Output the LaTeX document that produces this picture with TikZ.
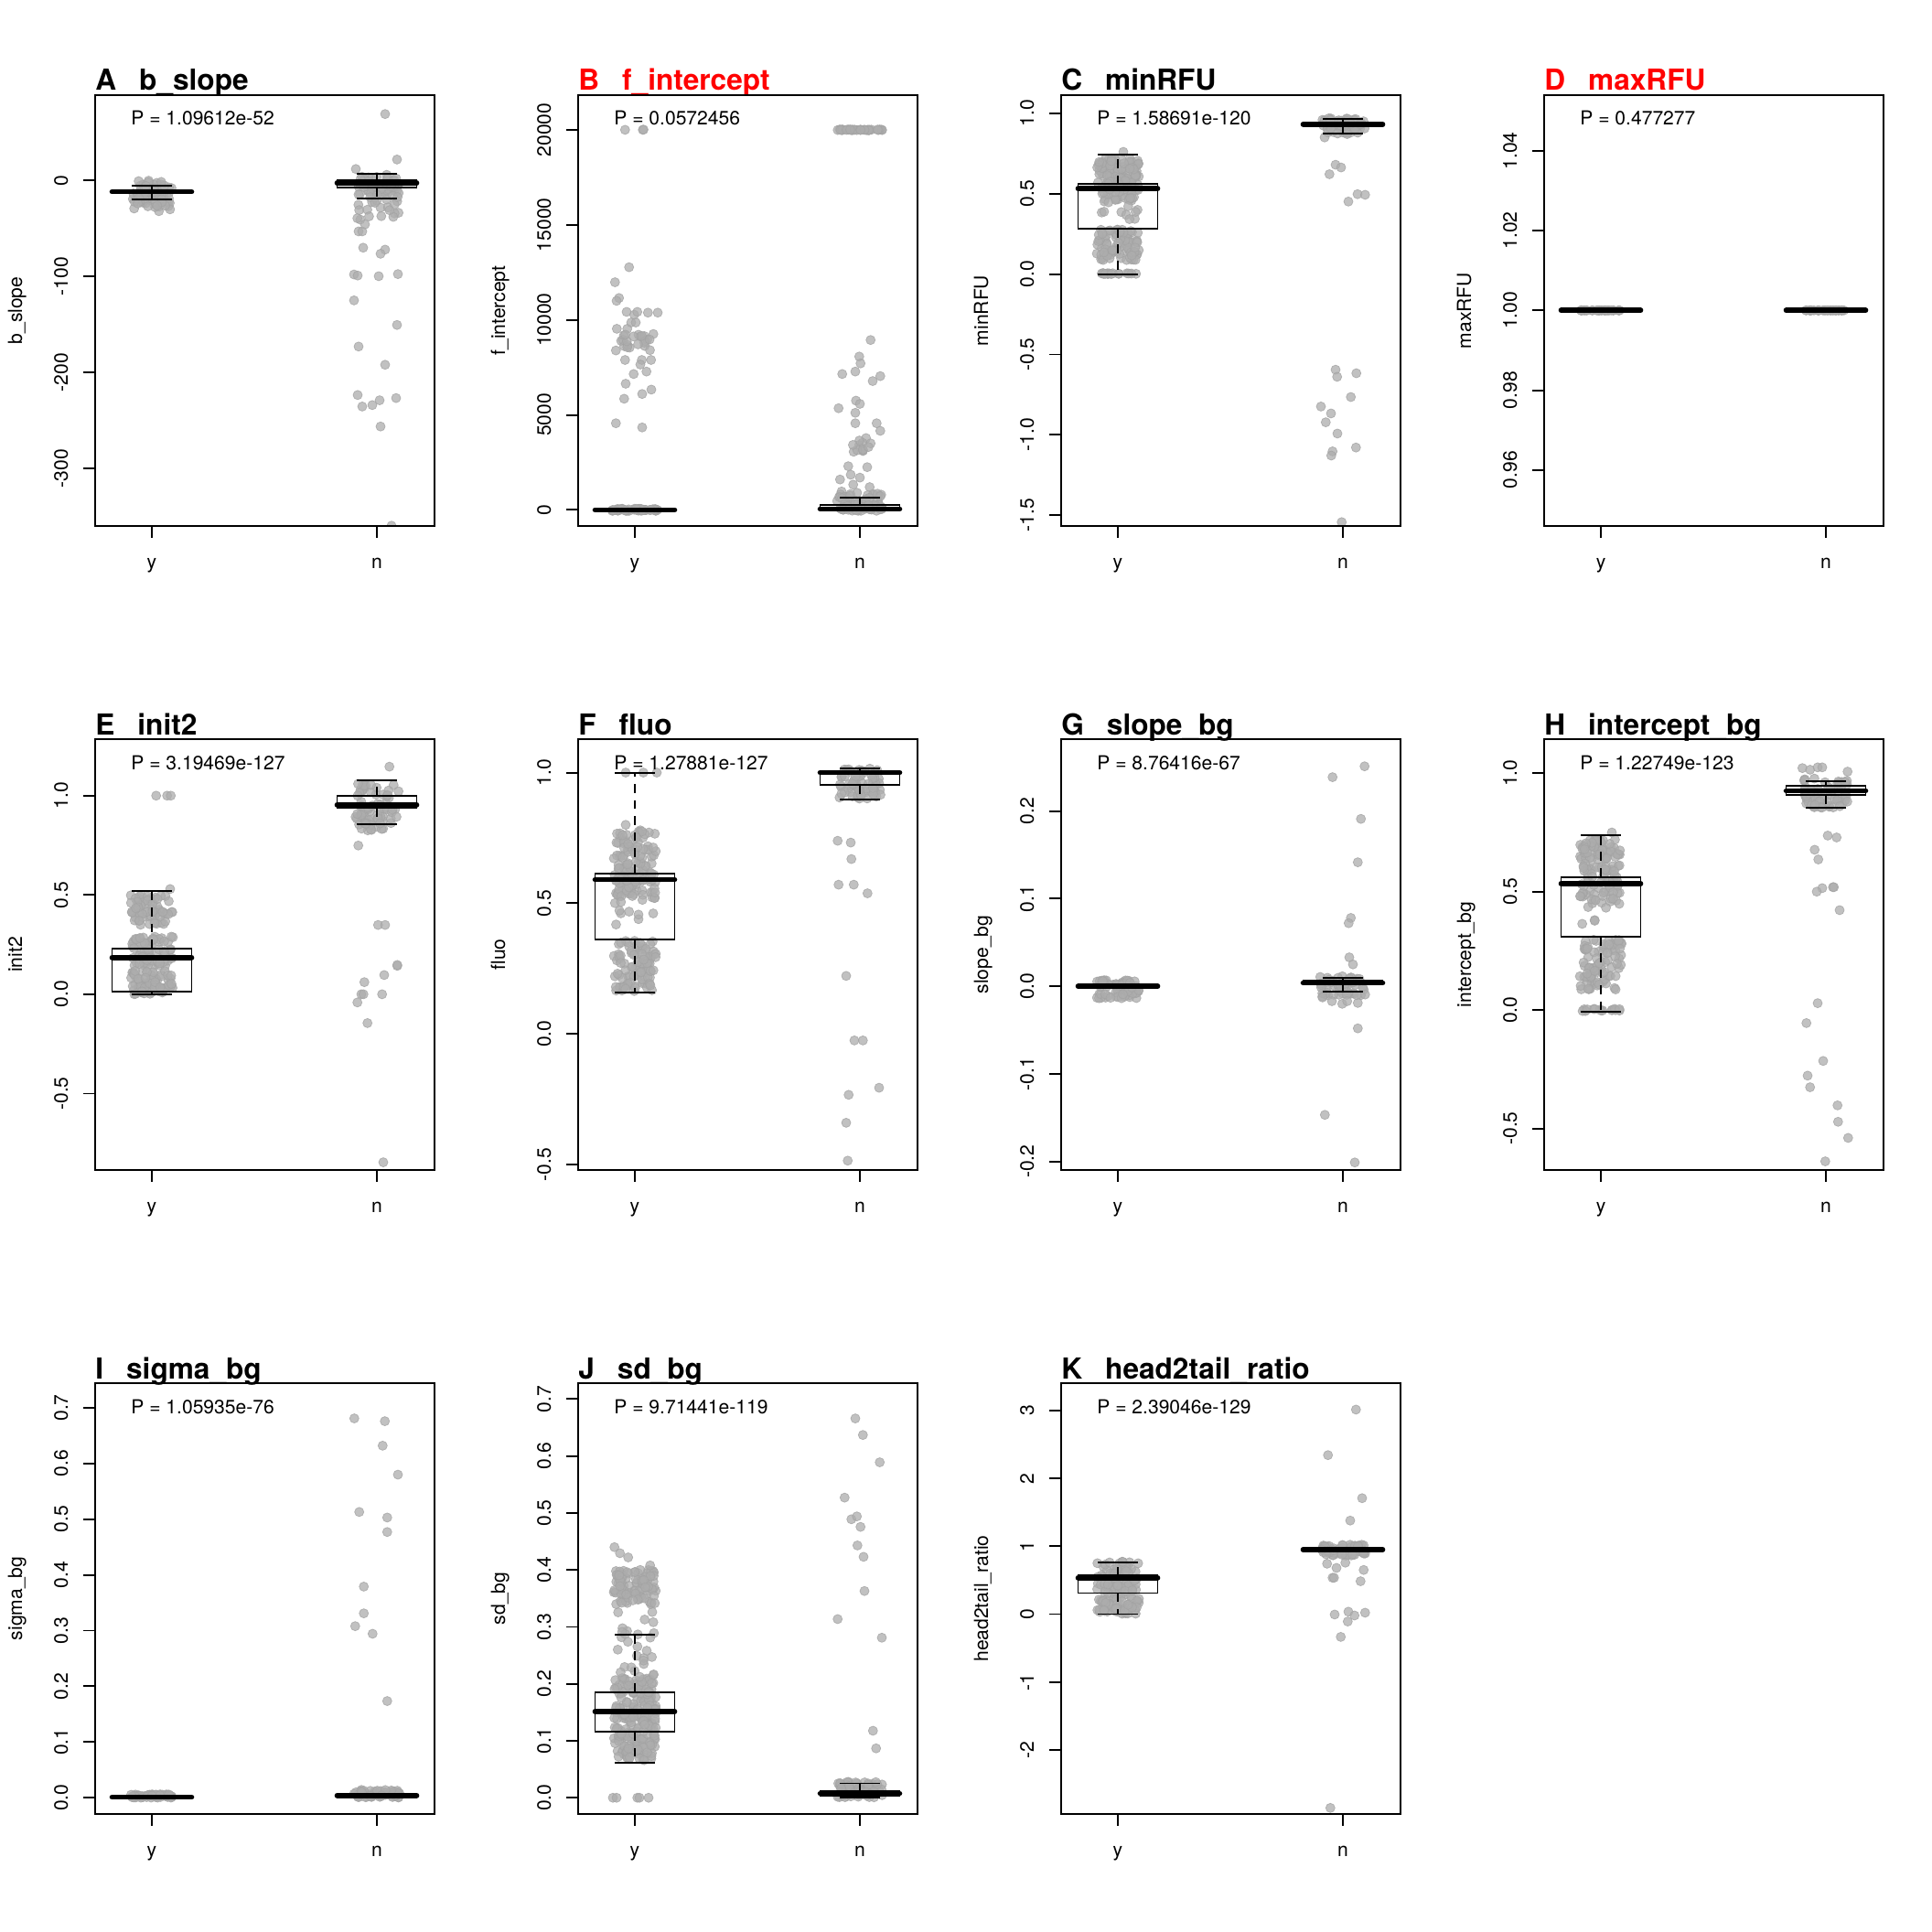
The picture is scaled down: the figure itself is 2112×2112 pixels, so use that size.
\documentclass[tikz,border=0pt]{standalone}
\usepackage{fontspec}
\setmainfont{TeX Gyre Heros}

\tikzset{
  dot/.style={fill=black!32, fill opacity=0.75, draw=black!36, draw opacity=0.8, line width=0.4pt},
  frameline/.style={line width=1.4pt},
  tickline/.style={line width=1.1pt},
  boxline/.style={line width=1.1pt},
  whisk/.style={line width=1.1pt, dash pattern=on 5.5pt off 4.5pt},
  medline/.style={line width=3.2pt, line cap=round},
  maintitle/.style={font=\fontsize{18}{20}\selectfont\bfseries, anchor=base west, inner sep=0pt},
  ptext/.style={font=\fontsize{12}{14}\selectfont, anchor=base west, inner sep=0pt},
  ylabel/.style={font=\fontsize{12}{14}\selectfont, rotate=90, anchor=base, inner sep=0pt},
  xlabel/.style={font=\fontsize{12}{14}\selectfont, anchor=base, inner sep=0pt},
  ticklab/.style={font=\fontsize{12}{14}\selectfont, rotate=90, anchor=base, inner sep=0pt}
}

% jittered points: x centre, count, low value, high value, half width
\newcommand{\cloud}[5]{%
  \foreach \k in {1,...,#2}{%
    \pgfmathsetmacro\cx{#1+#5*rand}%
    \pgfmathsetmacro\cy{vy((#3)+((#4)-(#3))*rnd)}%
    \path[dot] (\cx,\cy) circle[radius=0.1cm];}}
% single points: x centre, list of offset/value
\newcommand{\pts}[2]{%
  \foreach \dx/\v in {#2}{%
    \path[dot] ({#1+(\dx)},{vy(\v)}) circle[radius=0.1cm];}}
% box: x, lower whisker, q1, median, q3, upper whisker
\newcommand{\bplot}[6]{%
  \draw[whisk] (#1,{vy(#5)}) -- (#1,{vy(#6)});
  \draw[whisk] (#1,{vy(#3)}) -- (#1,{vy(#2)});
  \draw[boxline] ({#1-21.75},{vy(#6)}) -- ({#1+21.75},{vy(#6)});
  \draw[boxline] ({#1-21.75},{vy(#2)}) -- ({#1+21.75},{vy(#2)});
  \draw[boxline] ({#1-43.5},{vy(#3)}) rectangle ({#1+43.5},{vy(#5)});
  \draw[medline] ({#1-43.5},{vy(#4)}) -- ({#1+43.5},{vy(#4)});}
\newcommand{\yticks}[2]{%
  \foreach \v/\l [count=\i] in {#2}{%
    \draw[tickline] (0,{vy(\v)}) -- (-13,{vy(\v)});
    \node[ticklab] (k#1\i) at (-30,{vy(\v)}) {\l};}}
% title, p value, axis label, group ticks, frame
\newcommand{\panelbase}[5]{%
  \node[maintitle, text=#3] (t#1) at (0,-5) {#1\hspace{0.5cm}#2};
  \node[ptext] (p#1) at (39,33) {#5};
  \node[ylabel] (y#1) at (-80,235.5) {#4};
  \draw[tickline] (62,471) -- (62,484);
  \draw[tickline] (308,471) -- (308,484);
  \node[xlabel] (gy#1) at (62,517) {y};
  \node[xlabel] (gn#1) at (308,517) {n};
  \draw[frameline] (0,0) rectangle (371,471);}

\begin{document}
\begin{tikzpicture}[x=0.02cm, y=-0.02cm,
    declare function={vy(\q)=(\umax-(\q))/(\umax-(\umin))*471;}]
  \pgfmathsetseed{2024}
  \fill[white] (0,0) rectangle (2112,2112);
  \useasboundingbox (0,0) rectangle (2112,2112);

  % A
  \begin{scope}[shift={(104,104)}]
    \def\umin{-360}\def\umax{89}
    \begin{scope}
      \clip (0,0) rectangle (371,471);
      \cloud{62}{50}{-24}{-4}{22}
      \cloud{62}{20}{-32}{-18}{20}
      \cloud{62}{8}{-6}{0}{18}
      \cloud{308}{55}{-14}{6}{24}
      \cloud{308}{25}{-42}{-14}{24}
      \pts{308}{9/69.3,22/21.9,-23/12,-20/-53,-16/-53,-13/-45.7,-15/-70,9/-72,4/-76.3,-25/-97.9,-21/-99,2/-99.7,23/-97.5,-25/-124.9,22/-150.5,-20/-173,9/-192,-21/-223.5,-16/-235.5,-5/-234,3/-229,21/-226.7,4/-256.3,16/-359.7}
    \end{scope}
    \bplot{62}{-19.4}{-13}{-11.7}{-10}{-5.5}
    \bplot{308}{-18.3}{-7.3}{-2.6}{0}{6.9}
    \yticks{A}{0/0,-100/-100,-200/-200,-300/-300}
    \panelbase{A}{b\_slope}{black}{b\_slope}{P = 1.09612e-52}
  \end{scope}

  % B
  \begin{scope}[shift={(632,104)}]
    \def\umin{-0.846}\def\umax{21.825}
    \begin{scope}
      \clip (0,0) rectangle (371,471);
      \pts{62}{-10.7/20,8.7/20,9.5/20.01,-6.3/12.77,-21.7/11.98,-17.3/11.15,-20/11.0,-9/10.42,-0.7/10.27,2.7/10.42,14.3/10.38,25/10.38,-19.7/9.53,-8.3/9.53,-4/9.86,1/9.86,-20.7/8.39,-10.7/7.89,7.6/7.89,17.7/7.89,6/7.65,-1.3/7.15,12.7/7.28,-10/6.64,18/6.33,-11.7/5.85,8/6.1,-20.7/4.56,8/4.34}
      \cloud{62}{22}{8.4}{9.4}{22}
      \cloud{62}{50}{-0.05}{0.06}{25}
      \cloud{308}{35}{19.98}{20.02}{25}
      \pts{308}{11.7/8.94,-0.7/8.07,0.7/7.71,-19.3/7.15,-5/7.28,22.3/7.04,14/6.78,-23.3/5.35,-4.3/5.75,0/5.58,-5/5.11,-5/4.56,18.3/4.56,22.3/4.16,6.7/3.78,-0.7/3.42,3.3/3.1,11.7/3.5,-12.7/2.3,-10/1.85,0/1.7,8/2.25,-21.7/1.6,-7.3/1.33,10.7/1.2,-20/0.97,23.3/0.8,20/0.75}
      \cloud{308}{8}{3.0}{3.8}{10}
      \cloud{308}{25}{0.3}{0.9}{25}
      \cloud{308}{60}{-0.05}{0.3}{25}
    \end{scope}
    \bplot{62}{0}{0}{0}{0}{0}
    \bplot{308}{0}{-0.04}{0.05}{0.26}{0.63}
    \yticks{B}{0/0,5/5000,10/10000,15/15000,20/20000}
    \panelbase{B}{f\_intercept}{red}{f\_intercept}{P = 0.0572456}
  \end{scope}

  % C
  \begin{scope}[shift={(1160,104)}]
    \def\umin{-1.567}\def\umax{1.113}
    \begin{scope}
      \clip (0,0) rectangle (371,471);
      \cloud{62}{75}{0.60}{0.72}{23}
      \cloud{62}{55}{0.45}{0.60}{23}
      \cloud{62}{10}{0.33}{0.45}{22}
      \cloud{62}{85}{0.08}{0.28}{23}
      \cloud{62}{18}{0}{0.005}{22}
      \pts{62}{6/0.76}
      \cloud{308}{65}{0.87}{0.97}{24}
      \pts{308}{-20/0.85,-8/0.680,-2/0.663,-14.7/0.621,6/0.451,16/0.497,24.3/0.493,-8/-0.595,-6.3/-0.639,14.7/-0.617,8.7/-0.765,-24/-0.824,-13/-0.867,-18.7/-0.922,-6/-0.992,14.3/-1.079,-11.3/-1.103,-12.7/-1.129,-1.3/-1.543}
    \end{scope}
    \bplot{62}{0}{0.283}{0.531}{0.559}{0.742}
    \bplot{308}{0.876}{0.92}{0.932}{0.945}{0.967}
    \yticks{C}{-1.5/-1.5,-1/-1.0,-0.5/-0.5,0/0.0,0.5/0.5,1/1.0}
    \panelbase{C}{minRFU}{black}{minRFU}{P = 1.58691e-120}
  \end{scope}

  % D
  \begin{scope}[shift={(1688,104)}]
    \def\umin{0.94595}\def\umax{1.05396}
    \begin{scope}
      \clip (0,0) rectangle (371,471);
      \cloud{62}{30}{1}{1}{22}
      \cloud{308}{30}{1}{1}{22}
    \end{scope}
    \bplot{62}{1}{1}{1}{1}{1}
    \bplot{308}{1}{1}{1}{1}{1}
    \yticks{D}{0.96/0.96,0.98/0.98,1/1.00,1.02/1.02,1.04/1.04}
    \panelbase{D}{maxRFU}{red}{maxRFU}{P = 0.477277}
  \end{scope}

  % E
  \begin{scope}[shift={(104,808)}]
    \def\umin{-0.8846}\def\umax{1.2847}
    \begin{scope}
      \clip (0,0) rectangle (371,471);
      \cloud{62}{65}{0.35}{0.50}{23}
      \cloud{62}{75}{0.14}{0.29}{23}
      \cloud{62}{70}{0}{0.12}{23}
      \pts{62}{4.7/1,16.7/1,20.7/1,20/0.53}
      \cloud{308}{75}{0.81}{1.06}{24}
      \pts{308}{13.7/1.146,-20.3/0.749,1.3/0.349,9/0.349,22.3/0.143,22.3/0.148,8/0.097,-13.7/0.061,-17/0,-14.7/0,5.7/0,-21.3/-0.041,-10.3/-0.145,7/-0.846}
    \end{scope}
    \bplot{62}{0}{0.014}{0.185}{0.231}{0.522}
    \bplot{308}{0.857}{0.94}{0.954}{0.999}{1.076}
    \yticks{E}{-0.5/-0.5,0/0.0,0.5/0.5,1/1.0}
    \panelbase{E}{init2}{black}{init2}{P = 3.19469e-127}
  \end{scope}

  % F
  \begin{scope}[shift={(632,808)}]
    \def\umin{-0.5207}\def\umax{1.1279}
    \begin{scope}
      \clip (0,0) rectangle (371,471);
      \cloud{62}{95}{0.16}{0.36}{23}
      \cloud{62}{85}{0.52}{0.66}{23}
      \cloud{62}{50}{0.66}{0.78}{23}
      \cloud{62}{10}{0.40}{0.52}{23}
      \pts{62}{-10/1,9.3/1,24/1,-10/0.80}
      \cloud{308}{65}{0.9}{1.02}{24}
      \pts{308}{-24.3/0.739,-10/0.732,-9.3/0.669,-23.3/0.571,-6.7/0.571,8.3/0.538,-15/0.222,-6/-0.025,3.3/-0.025,21/-0.206,-12.3/-0.233,-15/-0.340,-13.3/-0.485}
    \end{scope}
    \bplot{62}{0.158}{0.361}{0.590}{0.615}{1.0}
    \bplot{308}{0.898}{0.952}{1.0}{1.003}{1.0145}
    \yticks{F}{-0.5/-0.5,0/0.0,0.5/0.5,1/1.0}
    \panelbase{F}{fluo}{black}{fluo}{P = 1.27881e-127}
  \end{scope}

  % G
  \begin{scope}[shift={(1160,808)}]
    \def\umin{-0.2096}\def\umax{0.2820}
    \begin{scope}
      \clip (0,0) rectangle (371,471);
      \cloud{62}{70}{-0.014}{0.007}{23}
      \cloud{308}{50}{-0.012}{0.012}{25}
      \pts{308}{23.7/0.251,-11.3/0.2386,19.7/0.191,16.3/0.1415,8.7/0.078,6.3/0.072,7/0.033,11/0.025,-22.3/-0.0127,-12/-0.017,-0.7/-0.020,4.7/-0.017,16.3/-0.019,15.3/-0.010,16.3/-0.048,-19.7/-0.1467,13/-0.201}
    \end{scope}
    \bplot{62}{0}{0}{0}{0}{0}
    \bplot{308}{-0.006}{0.002}{0.004}{0.007}{0.010}
    \yticks{G}{-0.2/-0.2,-0.1/-0.1,0/0.0,0.1/0.1,0.2/0.2}
    \panelbase{G}{slope\_bg}{black}{slope\_bg}{P = 8.76416e-67}
  \end{scope}

  % H
  \begin{scope}[shift={(1688,808)}]
    \def\umin{-0.6755}\def\umax{1.1443}
    \begin{scope}
      \clip (0,0) rectangle (371,471);
      \cloud{62}{60}{0.63}{0.72}{23}
      \cloud{62}{70}{0.45}{0.62}{23}
      \cloud{62}{6}{0.36}{0.45}{23}
      \cloud{62}{85}{0.08}{0.30}{23}
      \cloud{62}{15}{-0.005}{0.005}{23}
      \pts{62}{12/0.75}
      \cloud{308}{65}{0.85}{0.98}{25}
      \pts{308}{-25.7/1.022,-17.3/1.015,-9/1.025,-4/1.025,23.7/1.007,2/0.737,11.7/0.729,-12.3/0.677,-8.3/0.636,-4/0.515,7.7/0.519,8.7/0.519,-10/0.500,15/0.422,-9/0.029,-21.3/-0.055,-3/-0.215,-20/-0.277,-17.3/-0.326,12.7/-0.4025,13.3/-0.472,24.3/-0.540,-0.7/-0.639}
    \end{scope}
    \bplot{62}{-0.0075}{0.308}{0.534}{0.562}{0.737}
    \bplot{308}{0.855}{0.907}{0.926}{0.947}{0.966}
    \yticks{H}{-0.5/-0.5,0/0.0,0.5/0.5,1/1.0}
    \panelbase{H}{intercept\_bg}{black}{intercept\_bg}{P = 1.22749e-123}
  \end{scope}

  % I
  \begin{scope}[shift={(104,1512)}]
    \def\umin{-0.0293}\def\umax{0.7443}
    \begin{scope}
      \clip (0,0) rectangle (371,471);
      \cloud{62}{60}{0}{0.006}{23}
      \cloud{308}{60}{0}{0.014}{25}
      \pts{308}{-24.7/0.681,8.7/0.676,6.3/0.632,23/0.580,-19.3/0.513,11.3/0.503,11.3/0.477,-14.3/0.379,-14.3/0.331,-23.7/0.308,-4.7/0.2943,11.3/0.1735}
    \end{scope}
    \bplot{62}{0}{0}{0.001}{0.002}{0.004}
    \bplot{308}{0}{0.002}{0.004}{0.006}{0.007}
    \yticks{I}{0/0.0,0.1/0.1,0.2/0.2,0.3/0.3,0.4/0.4,0.5/0.5,0.6/0.6,0.7/0.7}
    \panelbase{I}{sigma\_bg}{black}{sigma\_bg}{P = 1.05935e-76}
  \end{scope}

  % J
  \begin{scope}[shift={(632,1512)}]
    \def\umin{-0.0286}\def\umax{0.7280}
    \begin{scope}
      \clip (0,0) rectangle (371,471);
      \cloud{62}{220}{0.065}{0.21}{23}
      \cloud{62}{28}{0.21}{0.33}{22}
      \cloud{62}{95}{0.34}{0.40}{23}
      \pts{62}{-22.3/0.440,-16.3/0.4294,-7.3/0.422,16.7/0.408,-24/0,-20/0,2.7/0,5/0,15/0}
      \cloud{308}{60}{0}{0.028}{25}
      \pts{308}{-5/0.666,3.3/0.637,21.7/0.589,-16.7/0.527,-9.3/0.489,-3.3/0.494,0.7/0.4756,-2.7/0.443,4/0.423,5/0.363,-24.3/0.3137,24/0.281,14.3/0.1176,17.7/0.0867}
    \end{scope}
    \bplot{62}{0.0615}{0.1157}{0.1513}{0.1851}{0.286}
    \bplot{308}{0}{0.003}{0.0074}{0.0124}{0.0253}
    \yticks{J}{0/0.0,0.1/0.1,0.2/0.2,0.3/0.3,0.4/0.4,0.5/0.5,0.6/0.6,0.7/0.7}
    \panelbase{J}{sd\_bg}{black}{sd\_bg}{P = 9.71441e-119}
  \end{scope}

  % K
  \begin{scope}[shift={(1160,1512)}]
    \def\umin{-2.947}\def\umax{3.405}
    \begin{scope}
      \clip (0,0) rectangle (371,471);
      \cloud{62}{140}{0}{0.78}{23}
      \cloud{308}{60}{0.86}{1.03}{25}
      \pts{308}{14.3/3.015,-16.3/2.344,21/1.709,8/1.379,-17.3/0.743,-7/0.681,2.7/0.758,22.7/0.651,-11.3/0.536,-9.7/0.536,19.3/0.485,-9/-0.006,6/0.036,24.3/0.021,12.7/-0.02,5.3/-0.109,-2.3/-0.336,-13.7/-2.857}
    \end{scope}
    \bplot{62}{0}{0.310}{0.536}{0.567}{0.764}
    \bplot{308}{0.93}{0.935}{0.95}{0.965}{0.97}
    \yticks{K}{-2/-2,-1/-1,0/0,1/1,2/2,3/3}
    \panelbase{K}{head2tail\_ratio}{black}{head2tail\_ratio}{P = 2.39046e-129}
  \end{scope}
\end{tikzpicture}
\end{document}
